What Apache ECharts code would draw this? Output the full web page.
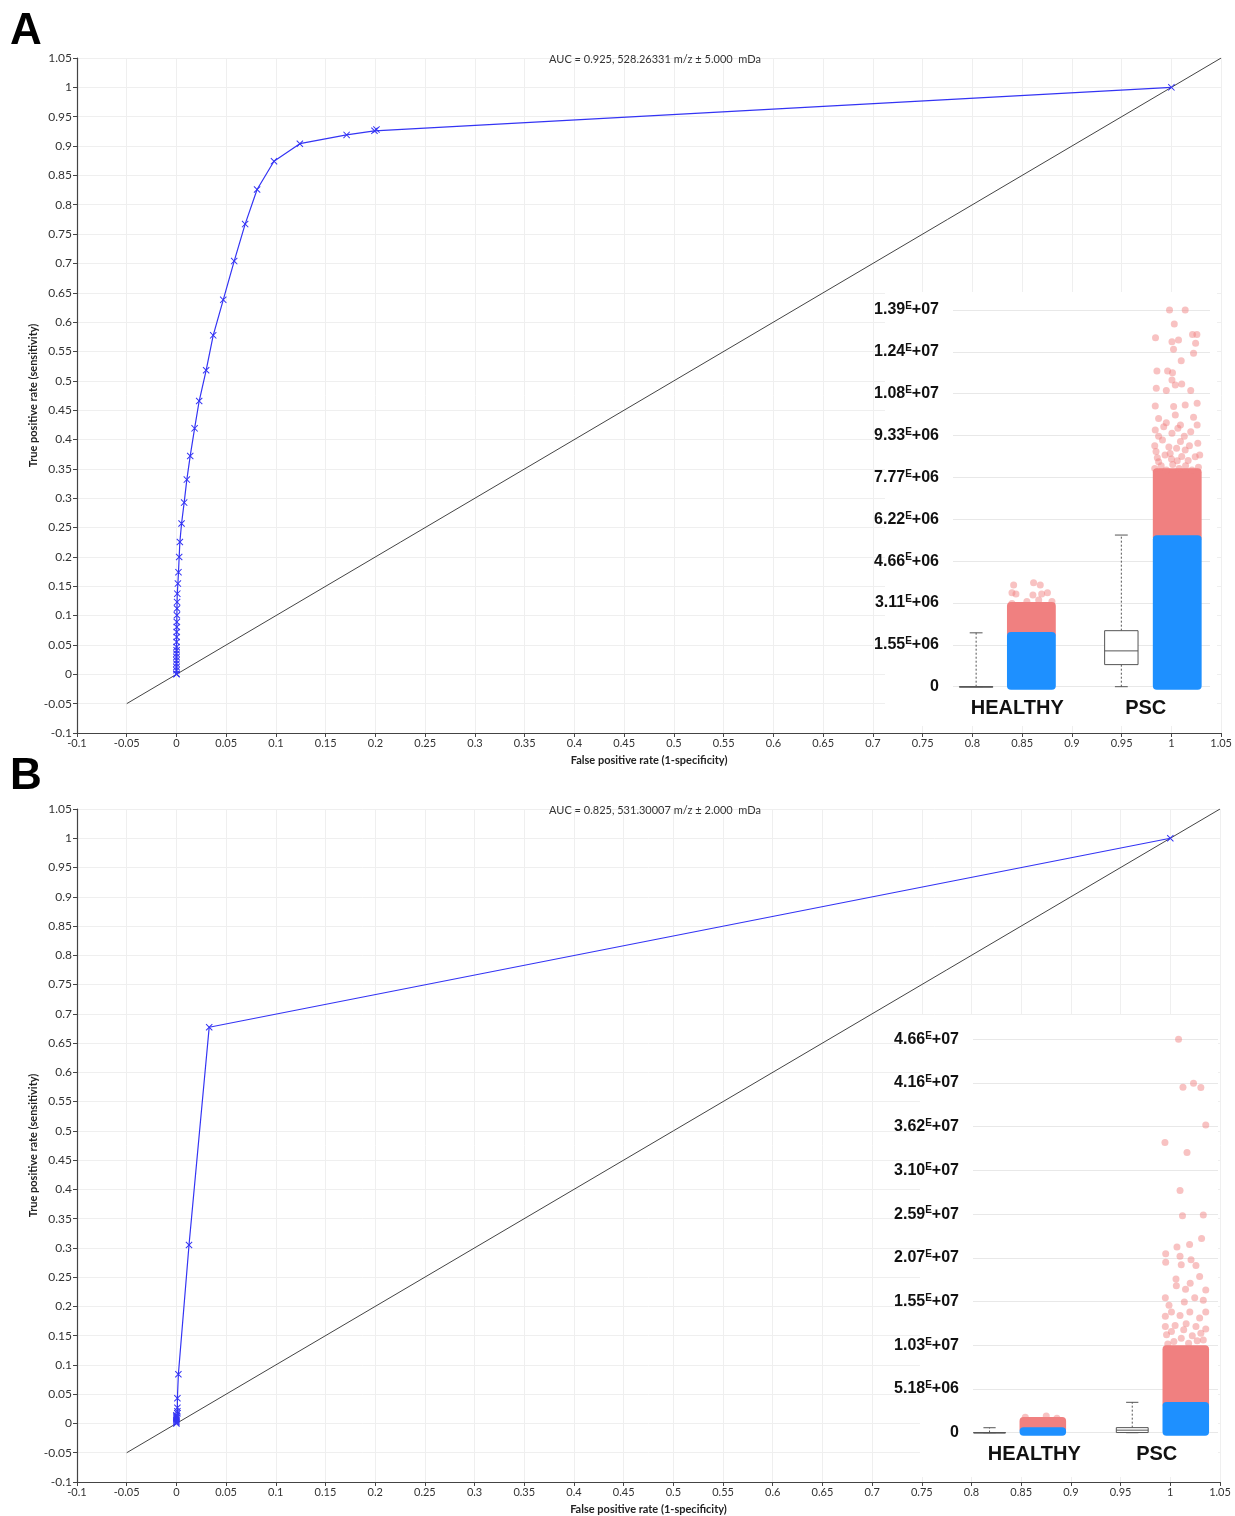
<!DOCTYPE html>
<html lang="en">
<head>
  <meta charset="utf-8">
  <title>ROC curves with intensity insets</title>
  <style>
    html, body { margin: 0; height: 100%; background: #fff; }
    #container { width: 1235px; height: 1516px; }
  </style>
</head>
<body>
  <div id="container"></div>
  <script src="https://cdn.jsdelivr.net/npm/echarts@6/dist/echarts.min.js"></script>
  <script>
    // ---- ROC data, panel A ----
    var fprA = [0, 0, 0, 0, 0, 0, 0, 0, 0.0001, 0.0001, 0.0001, 0.0002, 0.0002, 0.0003, 0.0003, 0.0004, 0.0005, 0.0006, 0.0008,
      0.0014, 0.002, 0.0027, 0.0034, 0.0051, 0.0077, 0.0104, 0.0138, 0.0182, 0.0228, 0.0298, 0.0369, 0.047, 0.058, 0.069,
      0.081, 0.098, 0.124, 0.171, 0.199, 0.201, 1];
    var tprA = [0, 0.001, 0.0068, 0.0124, 0.018, 0.0238, 0.0295, 0.035, 0.041, 0.0465, 0.055, 0.0636, 0.072, 0.0806, 0.089, 0.1005,
      0.112, 0.123, 0.1374, 0.1545, 0.174, 0.1999, 0.2254, 0.257, 0.2925, 0.3317, 0.372, 0.419, 0.4656, 0.518, 0.5775, 0.638,
      0.704, 0.767, 0.826, 0.874, 0.904, 0.919, 0.926, 0.928, 1];

    // ---- ROC data, panel B ----
    var fprB = [0, 0, 0, 0, 0, 0, 0, 0, 0.001, 0.001, 0.001, 0.001, 0.002, 0.0127, 0.033, 1];
    var tprB = [0, 0.002, 0.004, 0.006, 0.008, 0.010, 0.012, 0.014, 0.0175, 0.021, 0.027, 0.043, 0.084, 0.305, 0.677, 1];

    // chance diagonal
    var diagX = [-0.05, 1.05];

    var titleA = 'AUC = 0.925, 528.26331 m/z \u00b1 5.000  mDa';
    var titleB = 'AUC = 0.825, 531.30007 m/z \u00b1 2.000  mDa';

    // ---- inset data ----
    var groups = ['HEALTHY', 'PSC'];

    var insetTicksA = ['0', '1.55E+06', '3.11E+06', '4.66E+06', '6.22E+06', '7.77E+06', '9.33E+06', '1.08E+07', '1.24E+07', '1.39E+07'];
    var insetStepA = 1.554e6;
    var boxXA = [-0.32, 0.81];
    var boxMinA = [0, 0];
    var boxQ1A = [0, 0.82e6];
    var boxMedA = [0, 1.33e6];
    var boxQ3A = [0, 2.08e6];
    var boxMaxA = [2.0e6, 5.63e6];
    var stripXA = [0.11, 1.245];
    var blueTopA = [1.92e6, 5.51e6];
    var pinkTopA = [3.03e6, 8.0e6];
    var outXA = [-0.028, 0.127, 0.179, -0.041, -0.01, 0.122, 0.19, 0.235, 0.27, -0.041, 0.075, 0.167,
      1.185, 1.307, 1.222, 1.076, 1.204, 1.255, 1.364, 1.398, 1.388, 1.216, 1.372, 1.276, 1.087, 1.17, 1.208, 1.204,
      1.23, 1.28, 1.082, 1.16, 1.35, 1.40, 1.074, 1.217, 1.307, 1.10, 1.23, 1.372, 1.14, 1.27, 1.40, 1.074, 1.204,
      1.35, 1.13, 1.27, 1.405, 1.08, 1.19, 1.307, 1.385, 1.10, 1.245,
      1.07, 1.12, 1.16, 1.21, 1.26, 1.31, 1.36, 1.41, 1.09, 1.15, 1.20, 1.28, 1.33, 1.42, 1.07, 1.18, 1.24, 1.34,
      1.10, 1.30, 1.25, 1.16];
    var outYA = [3.775e6, 3.86e6, 3.775e6, 3.49e6, 3.44e6, 3.40e6, 3.44e6, 3.49e6, 3.16e6, 3.09e6, 3.16e6, 3.22e6,
      1.3986e7, 1.3986e7, 1.3466e7, 1.296e7, 1.281e7, 1.287e7, 1.308e7, 1.308e7, 1.275e7, 1.2525e7, 1.2377e7, 1.2105e7,
      1.172e7, 1.172e7, 1.166e7, 1.139e7, 1.12e7, 1.124e7, 1.108e7, 1.10e7, 1.10e7, 1.052e7, 1.042e7, 1.04e7, 1.046e7,
      9.96e6, 1.009e7, 1.0e7, 9.65e6, 9.72e6, 9.72e6, 9.53e6, 9.41e6, 9.47e6, 9.16e6, 9.10e6, 9.04e6, 8.73e6, 8.66e6,
      8.79e6, 8.54e6, 8.35e6, 8.39e6,
      8.1e6, 8.2e6, 8.05e6, 8.25e6, 8.1e6, 8.2e6, 8.05e6, 8.15e6, 8.5e6, 8.6e6, 8.45e6, 8.55e6, 8.4e6, 8.6e6,
      8.95e6, 8.9e6, 8.85e6, 8.95e6, 9.3e6, 9.3e6, 9.6e6, 9.8e6];

    var insetTicksB = ['0', '5.18E+06', '1.03E+07', '1.55E+07', '2.07E+07', '2.59E+07', '3.10E+07', '3.62E+07', '4.16E+07', '4.66E+07'];
    var insetStepB = 5.18e6;
    var boxXB = [-0.365, 0.80];
    var boxMinB = [0, 0];
    var boxQ1B = [0, 0.02e6];
    var boxMedB = [0, 0.3e6];
    var boxQ3B = [0.02e6, 0.6e6];
    var boxMaxB = [0.59e6, 3.6e6];
    var stripXB = [0.07, 1.237];
    var blueTopB = [0.3e6, 3.29e6];
    var pinkTopB = [1.5e6, 10.0e6];
    var outXB = [-0.073, 0.098, 0.185,
      1.178, 1.214, 1.30, 1.36, 1.40, 1.067, 1.247, 1.19, 1.21, 1.38, 1.366, 1.165, 1.268, 1.073, 1.073, 1.19, 1.20,
      1.28, 1.32, 1.35, 1.157, 1.273, 1.40, 1.16, 1.235, 1.07, 1.31, 1.10, 1.225, 1.38, 1.12, 1.27, 1.40, 1.07, 1.19,
      1.35, 1.07, 1.15, 1.24, 1.32, 1.40, 1.08, 1.20, 1.38,
      1.09, 1.14, 1.26, 1.33, 1.29, 1.12, 1.36, 1.22];
    var outYB = [1.82e6, 1.98e6, 1.7e6,
      4.663e7, 4.094e7, 4.14e7, 4.09e7, 3.647e7, 3.44e7, 3.32e7, 2.87e7, 2.57e7, 2.58e7, 2.30e7, 2.20e7, 2.23e7, 2.12e7,
      2.02e7, 2.09e7, 1.99e7, 2.05e7, 1.98e7, 1.85e7, 1.82e7, 1.77e7, 1.69e7, 1.74e7, 1.70e7, 1.60e7, 1.60e7, 1.51e7,
      1.55e7, 1.57e7, 1.43e7, 1.43e7, 1.43e7, 1.38e7, 1.39e7, 1.36e7, 1.26e7, 1.27e7, 1.29e7, 1.26e7, 1.23e7, 1.16e7,
      1.12e7, 1.10e7,
      1.05e7, 1.08e7, 1.06e7, 1.09e7, 1.15e7, 1.2e7, 1.18e7, 1.22e7];

    // ---- helpers ----
    function pairs(xs, ys) {
      return xs.map(function (x, i) { return [x, ys[i]]; });
    }
    var BLUE = '#1e90ff';
    var PINK = '#f08080';
    var ROC_BLUE = '#3434f4';
    var xMark = 'path://M0,1L1,0L5,4L9,0L10,1L6,5L10,9L9,10L5,6L1,10L0,9L4,5Z';
    var STRIP_HALF = 0.19;
    var BOX_HALF = 0.13;
    var CAP_HALF = 0.05;

    function renderStrip(params, api) {
      var x = api.value(0);
      var p0 = api.coord([x - STRIP_HALF, api.value(2)]);
      var p1 = api.coord([x + STRIP_HALF, api.value(1)]);
      return {
        type: 'rect',
        shape: { x: p0[0], y: p0[1] - 3, width: p1[0] - p0[0], height: p1[1] - p0[1] + 6, r: 4 },
        style: { fill: api.visual('color') }
      };
    }

    function renderBox(params, api) {
      var x = api.value(0);
      var pMin = api.coord([x, api.value(1)]);
      var pQ1 = api.coord([x, api.value(2)]);
      var pMed = api.coord([x, api.value(3)]);
      var pQ3 = api.coord([x, api.value(4)]);
      var pMax = api.coord([x, api.value(5)]);
      var bw = api.size([BOX_HALF, 0])[0];
      var cw = api.size([CAP_HALF, 0])[0];
      var stroke = { stroke: '#555', lineWidth: 1, fill: null };
      var dashed = { stroke: '#555', lineWidth: 1, lineDash: [2, 2], fill: null };
      return {
        type: 'group',
        children: [
          { type: 'line', shape: { x1: pMin[0], y1: pMin[1], x2: pQ1[0], y2: pQ1[1] }, style: dashed },
          { type: 'line', shape: { x1: pQ3[0], y1: pQ3[1], x2: pMax[0], y2: pMax[1] }, style: dashed },
          { type: 'line', shape: { x1: pMax[0] - cw, y1: pMax[1], x2: pMax[0] + cw, y2: pMax[1] }, style: stroke },
          { type: 'line', shape: { x1: pMin[0] - cw, y1: pMin[1], x2: pMin[0] + cw, y2: pMin[1] }, style: stroke },
          { type: 'rect', shape: { x: pQ3[0] - bw, y: pQ3[1], width: 2 * bw, height: Math.max(pQ1[1] - pQ3[1], 0.5) },
            style: { stroke: '#555', lineWidth: 1, fill: '#fff' } },
          { type: 'line', shape: { x1: pMed[0] - bw, y1: pMed[1], x2: pMed[0] + bw, y2: pMed[1] }, style: stroke }
        ]
      };
    }

    function insetLabel(ticks) {
      return function (value, index) {
        var t = ticks[index];
        if (t === undefined) return '';
        var k = t.indexOf('E');
        if (k < 0) return t;
        return t.slice(0, k) + '{e|E}' + t.slice(k + 1);
      };
    }

    function rocXAxis(gi) {
      return {
        type: 'value', gridIndex: gi, min: -0.1, max: 1.05, interval: 0.05,
        name: 'False positive rate (1-specificity)', nameLocation: 'middle', nameGap: 22,
        nameTextStyle: { fontFamily: 'Lato', fontWeight: 'bold', fontSize: 11, color: '#222' },
        axisLine: { onZero: false, lineStyle: { color: '#444', width: 1.2 } },
        axisTick: { length: 4, lineStyle: { color: '#444' } },
        axisLabel: { fontFamily: 'Lato', fontSize: 11, color: '#333', margin: 5 },
        splitLine: { lineStyle: { color: '#efefef' } }
      };
    }
    function rocYAxis(gi) {
      return {
        type: 'value', gridIndex: gi, min: -0.1, max: 1.05, interval: 0.05,
        name: 'True positive rate (sensitivity)', nameLocation: 'middle', nameGap: 38, nameMoveOverlap: false,
        nameTextStyle: { fontFamily: 'Lato', fontWeight: 'bold', fontSize: 11, color: '#222' },
        axisLine: { onZero: false, lineStyle: { color: '#444', width: 1.2 } },
        axisTick: { length: 4, lineStyle: { color: '#444' } },
        axisLabel: { fontFamily: 'Lato', fontSize: 12, color: '#333', margin: 5 },
        splitLine: { lineStyle: { color: '#efefef' } }
      };
    }
    function insetCatAxis(gi) {
      return {
        type: 'category', gridIndex: gi, data: groups, z: 5,
        axisLine: { show: false }, axisTick: { show: false },
        axisLabel: { fontFamily: 'Liberation Sans', fontWeight: 'bold', fontSize: 20, color: '#111', margin: 12 }
      };
    }
    function insetValXAxis(gi) {
      return { type: 'value', gridIndex: gi, min: -0.5, max: 1.5, show: false };
    }
    function insetYAxis(gi, ticks, step) {
      return {
        type: 'value', gridIndex: gi, min: 0, max: step * 9, interval: step, z: 5,
        axisLine: { show: false }, axisTick: { show: false },
        splitLine: { lineStyle: { color: '#e8e8e8' } },
        axisLabel: {
          margin: 14, fontFamily: 'Liberation Sans', fontWeight: 'bold', fontSize: 16, color: '#111',
          formatter: insetLabel(ticks),
          rich: { e: { fontFamily: 'Liberation Sans', fontWeight: 'bold', fontSize: 10, color: '#111', padding: [0, 0, 7, 0] } }
        }
      };
    }

    function insetSeries(xi, yi, boxX, bMin, bQ1, bMed, bQ3, bMax, stripX, blueTop, pinkTop, outX, outY) {
      return [
        {
          type: 'custom', xAxisIndex: xi, yAxisIndex: yi, z: 10, renderItem: renderBox,
          data: boxX.map(function (x, i) { return [x, bMin[i], bQ1[i], bMed[i], bQ3[i], bMax[i]]; })
        },
        {
          type: 'custom', xAxisIndex: xi, yAxisIndex: yi, z: 10, renderItem: renderStrip,
          itemStyle: { color: PINK },
          data: stripX.map(function (x, i) { return [x, blueTop[i], pinkTop[i]]; })
        },
        {
          type: 'custom', xAxisIndex: xi, yAxisIndex: yi, z: 11, renderItem: renderStrip,
          itemStyle: { color: BLUE },
          data: stripX.map(function (x, i) { return [x, 0, blueTop[i]]; })
        },
        {
          type: 'scatter', xAxisIndex: xi, yAxisIndex: yi, z: 12, symbolSize: 7,
          itemStyle: { color: 'rgba(240,128,128,0.6)' },
          data: pairs(outX, outY)
        }
      ];
    }

    var chart = echarts.init(document.getElementById('container'), null, { renderer: 'canvas' });

    var option = {
      backgroundColor: '#fff',
      animation: false,
      title: [
        { text: titleA, left: 650, top: 49, textAlign: 'center',
          textStyle: { fontFamily: 'Lato', fontSize: 11, fontWeight: 'normal', color: '#333' } },
        { text: titleB, left: 650, top: 800, textAlign: 'center',
          textStyle: { fontFamily: 'Lato', fontSize: 11, fontWeight: 'normal', color: '#333' } }
      ],
      graphic: [
        { type: 'text', left: 10, top: 10, z: 20,
          style: { text: 'A', font: 'bold 44px "Liberation Sans"', fill: '#000' } },
        { type: 'text', left: 10, top: 755, z: 20,
          style: { text: 'B', font: 'bold 44px "Liberation Sans"', fill: '#000' } },
        { type: 'rect', z: 3, shape: { x: 885, y: 292, width: 332, height: 434 }, style: { fill: '#fff' } },
        { type: 'rect', z: 3, shape: { x: 920, y: 1015, width: 298, height: 462 }, style: { fill: '#fff' } }
      ],
      grid: [
        { left: 77, top: 58, width: 1145, height: 675 },
        { left: 77, top: 809, width: 1143, height: 675 },
        { left: 953, top: 310, width: 257, height: 376.7 },
        { left: 973, top: 1039.3, width: 245, height: 393.4 }
      ],
      xAxis: [
        rocXAxis(0), rocXAxis(1),
        insetCatAxis(2), insetValXAxis(2),
        insetCatAxis(3), insetValXAxis(3)
      ],
      yAxis: [
        rocYAxis(0), rocYAxis(1),
        insetYAxis(2, insetTicksA, insetStepA),
        insetYAxis(3, insetTicksB, insetStepB)
      ],
      series: [
        { type: 'line', xAxisIndex: 0, yAxisIndex: 0, showSymbol: false, symbol: 'none', silent: true,
          lineStyle: { color: '#444', width: 1 }, data: pairs(diagX, diagX) },
        { type: 'line', xAxisIndex: 0, yAxisIndex: 0, symbol: xMark, symbolSize: 7,
          lineStyle: { color: ROC_BLUE, width: 1.2 }, itemStyle: { color: ROC_BLUE },
          data: pairs(fprA, tprA) },
        { type: 'line', xAxisIndex: 1, yAxisIndex: 1, showSymbol: false, symbol: 'none', silent: true,
          lineStyle: { color: '#444', width: 1 }, data: pairs(diagX, diagX) },
        { type: 'line', xAxisIndex: 1, yAxisIndex: 1, symbol: xMark, symbolSize: 7,
          lineStyle: { color: ROC_BLUE, width: 1.2 }, itemStyle: { color: ROC_BLUE },
          data: pairs(fprB, tprB) }
      ]
        .concat(insetSeries(3, 2, boxXA, boxMinA, boxQ1A, boxMedA, boxQ3A, boxMaxA, stripXA, blueTopA, pinkTopA, outXA, outYA))
        .concat(insetSeries(5, 3, boxXB, boxMinB, boxQ1B, boxMedB, boxQ3B, boxMaxB, stripXB, blueTopB, pinkTopB, outXB, outYB))
    };

    chart.setOption(option);
    window.addEventListener('resize', chart.resize);
  </script>
</body>
</html>
